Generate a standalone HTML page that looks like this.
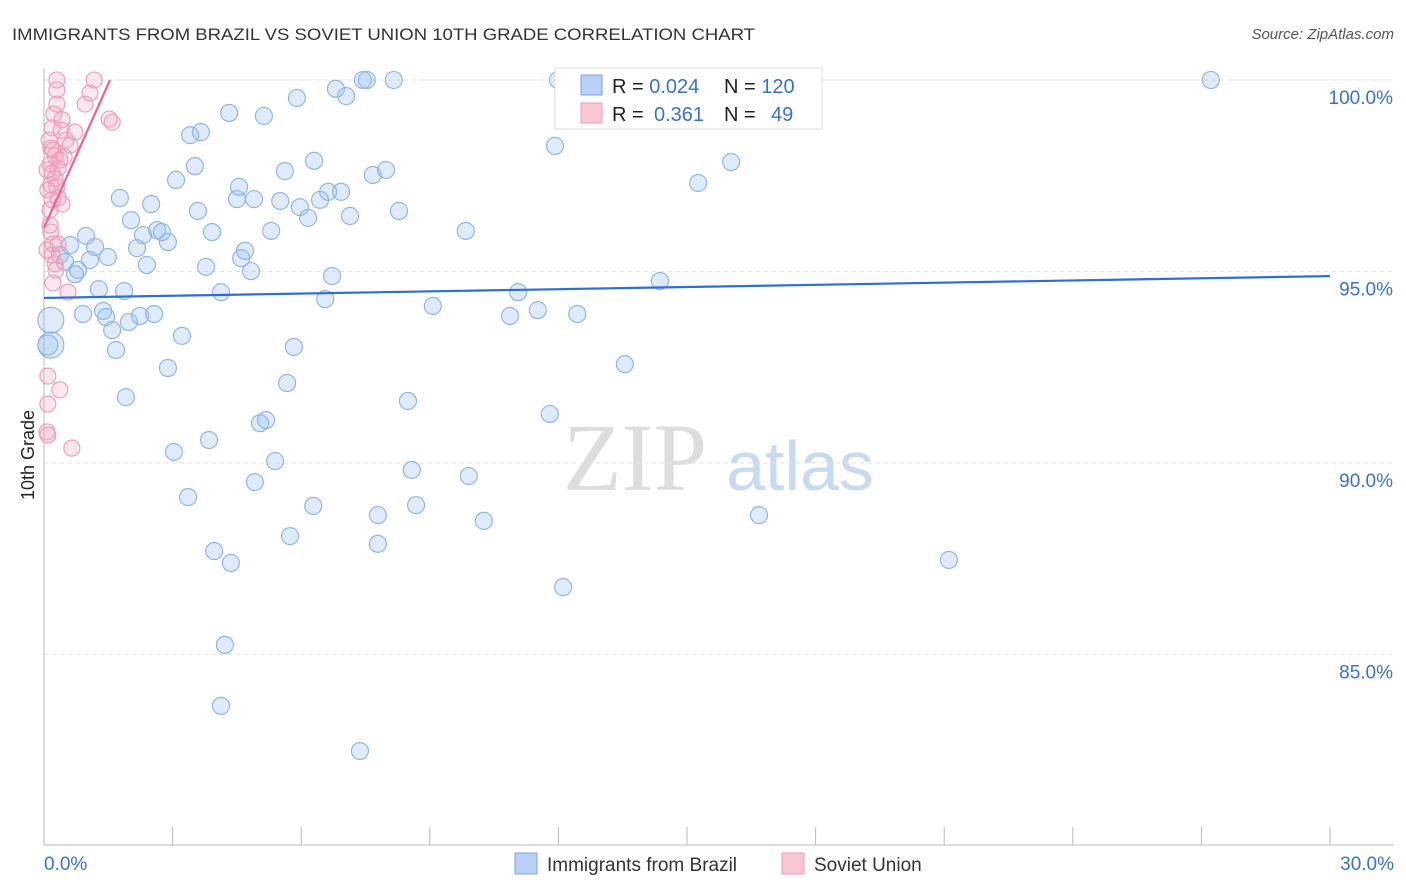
<!DOCTYPE html>
<html><head><meta charset="utf-8"><style>
body{margin:0;background:#fff;font-family:"Liberation Sans",sans-serif}
svg{display:block}
</style></head><body>
<svg id="chart" width="1406" height="892" xmlns="http://www.w3.org/2000/svg">
<text x="12" y="40" font-size="17" fill="#333" textLength="743" lengthAdjust="spacingAndGlyphs">IMMIGRANTS FROM BRAZIL VS SOVIET UNION 10TH GRADE CORRELATION CHART</text>
<text x="1394" y="39" font-size="15" fill="#555" text-anchor="end" font-style="italic">Source: ZipAtlas.com</text>
<text x="34" y="455" font-size="18" fill="#222" text-anchor="middle" transform="rotate(-90 34 455)">10th Grade</text>
<g><text x="635" y="490" font-size="96" fill="#ddd" font-family="Liberation Serif,serif" text-anchor="middle">ZIP</text><text x="800" y="490" font-size="70" fill="#c8daf2" text-anchor="middle">atlas</text></g>
<g id="grid"></g><g id="axes"></g><g id="marks"></g>
<g>
<rect x="555" y="68" width="267" height="61" fill="#fff" stroke="#ddd"/>
<rect x="581" y="75" width="21" height="20" fill="#b8d0f3" stroke="#7aa6e0"/>
<rect x="581" y="103" width="21" height="20" fill="#fbc6d4" stroke="#f09ab4"/>
<text x="612" y="93" font-size="20" fill="#222">R = <tspan fill="#3a72c8">0.024</tspan><tspan x="724">N = </tspan><tspan fill="#3a72c8">120</tspan></text>
<text x="612" y="121" font-size="20" fill="#222">R = <tspan x="654" fill="#3a72c8">0.361</tspan><tspan x="724">N = </tspan><tspan x="771" fill="#3a72c8">49</tspan></text>
</g>
<g>
<rect x="515" y="853" width="22" height="21" fill="#b8d0f3" stroke="#7aa6e0"/>
<text x="547" y="871" font-size="19" fill="#333">Immigrants from Brazil</text>
<rect x="782" y="853" width="22" height="21" fill="#fbc6d4" stroke="#f09ab4"/>
<text x="814" y="871" font-size="19" fill="#333">Soviet Union</text>
</g>
</svg>
<script>
const blueX=[.16,.16,.09,.37,.61,.49,.79,.72,.91,.98,1.19,1.07,1.28,1.38,1.45,1.49,1.59,1.68,1.77,1.87,1.91,1.98,2.03,2.17,2.24,2.31,2.40,2.50,2.57,2.64,2.75,2.89,2.89,3.03,3.08,3.22,3.36,3.41,3.52,3.59,3.66,3.78,3.85,3.92,3.97,4.13,4.22,4.13,4.32,4.36,4.50,4.55,4.60,4.69,4.83,4.90,4.92,5.04,5.13,5.18,5.30,5.39,5.51,5.62,5.67,5.74,5.83,5.90,5.97,6.16,6.28,6.30,6.44,6.56,6.63,6.72,6.81,6.93,7.05,7.14,7.37,7.44,7.53,7.67,7.79,7.79,7.98,8.16,8.28,8.49,8.58,8.68,9.07,9.84,9.91,10.26,10.87,11.06,11.52,11.80,11.92,12.11,12.44,13.55,14.37,15.26,16.03,16.68,21.11,27.22,11.99,16.28];
const blueY=[93.73,93.08,93.08,95.43,95.69,95.25,95.04,94.93,93.89,95.93,95.64,95.30,94.54,93.97,93.81,95.38,93.47,92.95,96.92,94.49,91.72,93.68,96.34,95.61,93.84,95.95,95.17,96.76,93.89,96.08,96.03,95.77,92.48,90.29,97.39,93.32,89.11,98.56,97.75,96.58,98.64,95.12,90.60,96.03,87.70,94.46,85.25,83.66,99.14,87.39,96.89,97.21,95.35,95.54,95.01,96.89,89.50,91.04,99.06,91.12,96.06,90.05,96.84,97.62,92.09,88.09,93.03,99.53,96.68,96.40,88.88,97.89,96.87,94.28,97.08,94.88,99.77,97.08,99.58,96.45,82.48,100,100,97.52,88.64,87.89,97.65,100,96.58,91.62,89.82,88.90,94.10,96.06,89.66,88.49,93.84,94.46,93.99,91.28,98.28,86.76,93.89,92.58,94.75,97.31,97.86,88.64,87.47,100,100,100];
const pinkX=[.30,.30,1.17,1.07,.30,.96,.23,1.52,1.59,.19,.40,.72,.51,.61,.16,.26,.47,.14,.33,.19,.26,.16,.30,.33,.42,.14,.16,.21,.33,.19,.26,.21,.56,.09,.37,.09,.07,.09,.65,.12,.19,.14,.28,.07,.09,.21,.37,.42,.07];
const pinkY=[100,99.74,100,99.66,99.37,99.37,99.11,98.98,98.90,98.75,98.69,98.64,98.43,98.30,98.22,98.02,97.99,97.81,97.70,97.57,97.42,97.26,97.21,96.92,96.76,96.61,96.03,95.72,95.72,95.43,95.20,94.70,94.46,92.27,91.91,91.54,90.81,90.73,90.39,98.43,96.87,96.21,95.04,97.65,97.13,98.17,97.91,98.96,95.56];
const blueTrend=[[0,94.31],[30,94.88]];
const pinkTrend=[[0,96.14],[1.54,100]];
const yTicks=[100,95,90,85];
const xTickLabels=["0.0%","30.0%"];
const NS="http://www.w3.org/2000/svg";
const sx=v=>44+v/30*1286, sy=v=>80+(100-v)*38.3;
function mk(t,a,p){const e=document.createElementNS(NS,t);for(const k in a)e.setAttribute(k,a[k]);document.getElementById(p).appendChild(e);return e;}
yTicks.forEach(t=>{
 const l=mk('line',{x1:44,x2:1394,y1:sy(t),y2:sy(t),stroke:'#e2e2e2','stroke-dasharray':'4 4'},'grid');
 
 
 const tx=mk('text',{x:1393,y:sy(t)+24,'font-size':19,fill:'#3a72c8','text-anchor':'end'},'axes');
 tx.textContent=t.toFixed(1)+'%';
 
 
});
const ax=mk('line',{x1:44,x2:1394,y1:845,y2:845,stroke:'#bbb'},'axes');


const ay=mk('line',{x1:44,x2:44,y1:68,y2:845,stroke:'#bbb'},'axes');


for(let i=0;i<=10;i++){const l=mk('line',{x1:sx(i*3),x2:sx(i*3),y1:827,y2:845,stroke:'#bbb'},'axes');
 
 }
[[xTickLabels[0],44,'start'],[xTickLabels[1],1394,'end']].forEach(([s,x,a])=>{const t=mk('text',{x:x,y:870,'font-size':19,fill:'#3a72c8','text-anchor':a},'axes');t.textContent=s;
 
 });
blueX.forEach((x,i)=>{const c=mk('circle',{cx:sx(x),cy:sy(blueY[i]),r:i<3?(i<2?13:10):8.5,fill:'rgba(150,190,240,0.3)',stroke:'#8ab2e6','stroke-width':1.1},'marks');
 
 });
pinkX.forEach((x,i)=>{const c=mk('circle',{cx:sx(x),cy:sy(pinkY[i]),r:8,fill:'rgba(245,160,190,0.25)',stroke:'#f09ab4','stroke-width':1.1},'marks');
 
 });
const bl=mk('line',{x1:sx(blueTrend[0][0]),y1:sy(blueTrend[0][1]),x2:sx(blueTrend[1][0]),y2:sy(blueTrend[1][1]),stroke:'#2f6fd0','stroke-width':2.2},'marks');


const pl=mk('line',{x1:sx(pinkTrend[0][0]),y1:sy(pinkTrend[0][1]),x2:sx(pinkTrend[1][0]),y2:sy(pinkTrend[1][1]),stroke:'#e8639a','stroke-width':2.2},'marks');


</script>
</body></html>
